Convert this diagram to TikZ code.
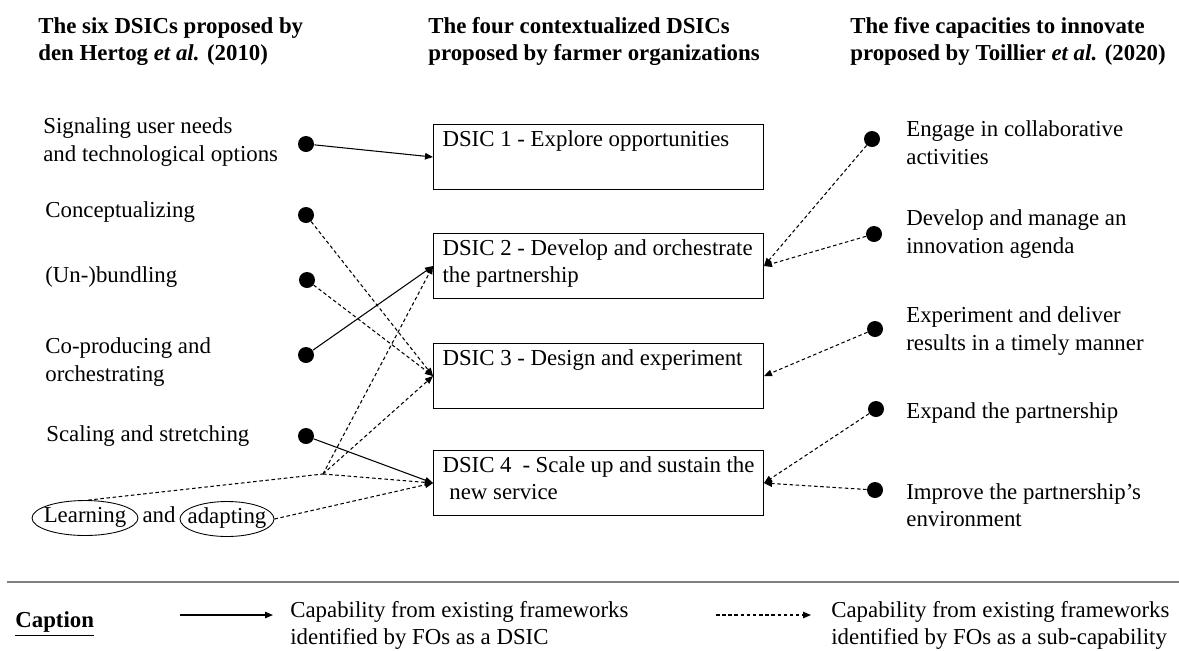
\documentclass[tikz,border=0pt]{standalone}
\usepackage{fontspec}
\setmainfont{Liberation Serif}
\usetikzlibrary{arrows.meta}
\usetikzlibrary{shapes.geometric}

\begin{document}
\begin{tikzpicture}[x=0.02cm, y=-0.02cm,
        every node/.style={font=\fontsize{13}{15.6}\selectfont, inner sep=0pt},
        heading/.style={anchor=west, align=left, font=\fontsize{13}{15.6}\selectfont\bfseries},
        item/.style={anchor=west, align=left},
        dot/.style={circle, fill=black, minimum size=0.32cm},
        dsic/.style={draw, line width=0.6pt, inner xsep=0.18cm, inner ysep=0.12cm, anchor=north west},
        oval/.style={draw, ellipse, line width=0.5pt, minimum height=0.7cm},
        inline/.style={text height=0.7em, text depth=0.22em},
        dsiclink/.style={line width=0.6pt, -{Triangle[length=1.6mm, width=1.3mm]}},
        sublink/.style={dsiclink, dash pattern=on 2pt off 1.5pt}]
    \useasboundingbox (0,0) rectangle (1179,650);

    \node[heading] (hleft) at (38,41.5) {The six DSICs proposed by\\den Hertog \textit{et al.} (2010)};
    \node[heading] (hmid) at (428,41.5) {The four contextualized DSICs\\proposed by farmer organizations};
    \node[heading] (hright) at (850,41.5) {The five capacities to innovate\\proposed by Toillier \textit{et al.} (2020)};

    \node[item] (sig) at (43,142) {Signaling user needs\\and technological options};
    \node[item] (concept) at (45,212) {Conceptualizing};
    \node[item] (unbund) at (45,277) {(Un-)bundling};
    \node[item] (coprod) at (45,362) {Co-producing and\\orchestrating};
    \node[item] (scaling) at (46,436) {Scaling and stretching};
    \node[oval, inline, minimum width=2.12cm] (learn) at (85,518) {\makebox[0pt]{Learning}};
    \node[inline] (andword) at (159,518) {and};
    \node[oval, inline, minimum width=1.88cm] (adapt) at (227,519) {\makebox[0pt]{adapting}};

    \node[dot] (l1) at (306,144) {};
    \node[dot] (l2) at (306,215) {};
    \node[dot] (l3) at (307,280) {};
    \node[dot] (l4) at (306,355) {};
    \node[dot] (l5) at (306,436) {};

    \node[dsic] (d1) at (433,124) {\parbox[t][1.06cm][t]{6.24cm}{DSIC 1 - Explore opportunities}};
    \node[dsic] (d2) at (433,233) {\parbox[t][1.06cm][t]{6.24cm}{DSIC 2 - Develop and orchestrate\\the partnership}};
    \node[dsic] (d3) at (433,343) {\parbox[t][1.06cm][t]{6.24cm}{DSIC 3 - Design and experiment}};
    \node[dsic] (d4) at (433,450) {\parbox[t][1.06cm][t]{6.24cm}{DSIC 4 \ - Scale up and sustain the\\\hspace*{0.3em}new service}};

    \node[dot] (r1) at (872,139) {};
    \node[dot] (r2) at (874,234) {};
    \node[dot] (r3) at (875,329) {};
    \node[dot] (r4) at (876,409) {};
    \node[dot] (r5) at (875,490) {};

    \node[item] (engage) at (906,142.5) {Engage in collaborative\\activities};
    \node[item] (agenda) at (906,234) {Develop and manage an\\innovation agenda};
    \node[item] (deliver) at (906,331) {Experiment and deliver\\results in a timely manner};
    \node[item] (expand) at (906,413) {Expand the partnership};
    \node[item] (improve) at (906,505) {Improve the partnership's\\environment};

    \coordinate (fork) at (323,474);
    \draw[dsiclink] (l1) -- (d1.west);
    \draw[sublink] (l2) -- (d3.west);
    \draw[sublink] (l3) -- (d3.west);
    \draw[dsiclink] (l4) -- (d2.west);
    \draw[dsiclink] (l5) -- (d4.west);
    \draw[sublink, -] (learn.80) -- (fork);
    \draw[sublink] (fork) -- (d2.west);
    \draw[sublink] (fork) -- (d3.west);
    \draw[sublink] (fork) -- (d4.west);
    \draw[sublink] (adapt.east) -- (d4.west);

    \draw[sublink] (r1) -- (d2.east);
    \draw[sublink] (r2) -- (d2.east);
    \draw[sublink] (r3) -- (d3.east);
    \draw[sublink] (r4) -- (d4.east);
    \draw[sublink] (r5) -- (d4.east);

    \draw[gray, line width=1pt] (7,582) -- (1179,582);

    \node[heading] (caption) at (15,624) {\underline{Caption}};
    \coordinate (solidfrom) at (180,615);
    \coordinate (solidto) at (273,615);
    \draw[dsiclink] (solidfrom) -- (solidto);
    \node[item] (legsolid) at (290,625.5) {Capability from existing frameworks\\identified by FOs as a DSIC};
    \coordinate (dashfrom) at (716,615);
    \coordinate (dashto) at (811,615);
    \draw[sublink] (dashfrom) -- (dashto);
    \node[item] (legdash) at (831,625.5) {Capability from existing frameworks\\identified by FOs as a sub-capability};
\end{tikzpicture}
\end{document}
